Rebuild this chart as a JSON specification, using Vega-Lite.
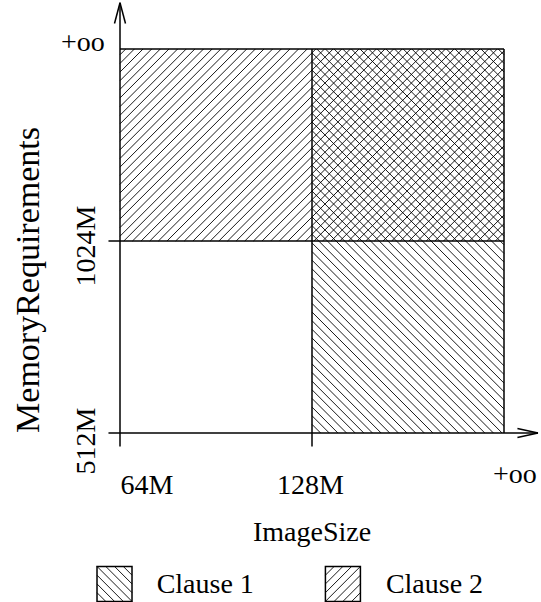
{
  "$schema": "https://vega.github.io/schema/vega-lite/v6.json",
  "width": 540,
  "height": 602,
  "autosize": "none",
  "padding": 0,
  "config": {"view": {"stroke": null}, "text": {"font": "Liberation Serif", "color": "#000"}},
  "datasets": {
    "hatch": [
      {"x":1,"y":0.045,"x2":1.045,"y2":0},{"x":1,"y":0.09,"x2":1.09,"y2":0},{"x":1,"y":0.135,"x2":1.135,"y2":0},{"x":1,"y":0.18,"x2":1.18,"y2":0},{"x":1,"y":0.225,"x2":1.225,"y2":0},{"x":1,"y":0.27,"x2":1.27,"y2":0},{"x":1,"y":0.315,"x2":1.315,"y2":0},{"x":1,"y":0.36,"x2":1.36,"y2":0},{"x":1,"y":0.405,"x2":1.405,"y2":0},{"x":1,"y":0.45,"x2":1.45,"y2":0},{"x":1,"y":0.495,"x2":1.495,"y2":0},{"x":1,"y":0.54,"x2":1.54,"y2":0},{"x":1,"y":0.585,"x2":1.585,"y2":0},{"x":1,"y":0.63,"x2":1.63,"y2":0},{"x":1,"y":0.675,"x2":1.675,"y2":0},{"x":1,"y":0.72,"x2":1.72,"y2":0},{"x":1,"y":0.765,"x2":1.765,"y2":0},{"x":1,"y":0.81,"x2":1.81,"y2":0},{"x":1,"y":0.855,"x2":1.855,"y2":0},{"x":1,"y":0.9,"x2":1.9,"y2":0},{"x":1,"y":0.945,"x2":1.945,"y2":0},{"x":1,"y":0.99,"x2":1.99,"y2":0},
      {"x":1,"y":1.035,"x2":2,"y2":0.035},{"x":1,"y":1.08,"x2":2,"y2":0.08},{"x":1,"y":1.125,"x2":2,"y2":0.125},{"x":1,"y":1.17,"x2":2,"y2":0.17},{"x":1,"y":1.215,"x2":2,"y2":0.215},{"x":1,"y":1.26,"x2":2,"y2":0.26},{"x":1,"y":1.305,"x2":2,"y2":0.305},{"x":1,"y":1.35,"x2":2,"y2":0.35},{"x":1,"y":1.395,"x2":2,"y2":0.395},{"x":1,"y":1.44,"x2":2,"y2":0.44},{"x":1,"y":1.485,"x2":2,"y2":0.485},{"x":1,"y":1.53,"x2":2,"y2":0.53},{"x":1,"y":1.575,"x2":2,"y2":0.575},{"x":1,"y":1.62,"x2":2,"y2":0.62},{"x":1,"y":1.665,"x2":2,"y2":0.665},{"x":1,"y":1.71,"x2":2,"y2":0.71},{"x":1,"y":1.755,"x2":2,"y2":0.755},{"x":1,"y":1.8,"x2":2,"y2":0.8},{"x":1,"y":1.845,"x2":2,"y2":0.845},{"x":1,"y":1.89,"x2":2,"y2":0.89},{"x":1,"y":1.935,"x2":2,"y2":0.935},{"x":1,"y":1.98,"x2":2,"y2":0.98},
      {"x":1.025,"y":2,"x2":2,"y2":1.025},{"x":1.07,"y":2,"x2":2,"y2":1.07},{"x":1.115,"y":2,"x2":2,"y2":1.115},{"x":1.16,"y":2,"x2":2,"y2":1.16},{"x":1.205,"y":2,"x2":2,"y2":1.205},{"x":1.25,"y":2,"x2":2,"y2":1.25},{"x":1.295,"y":2,"x2":2,"y2":1.295},{"x":1.34,"y":2,"x2":2,"y2":1.34},{"x":1.385,"y":2,"x2":2,"y2":1.385},{"x":1.43,"y":2,"x2":2,"y2":1.43},{"x":1.475,"y":2,"x2":2,"y2":1.475},{"x":1.52,"y":2,"x2":2,"y2":1.52},{"x":1.565,"y":2,"x2":2,"y2":1.565},{"x":1.61,"y":2,"x2":2,"y2":1.61},{"x":1.655,"y":2,"x2":2,"y2":1.655},{"x":1.7,"y":2,"x2":2,"y2":1.7},{"x":1.745,"y":2,"x2":2,"y2":1.745},{"x":1.79,"y":2,"x2":2,"y2":1.79},{"x":1.835,"y":2,"x2":2,"y2":1.835},{"x":1.88,"y":2,"x2":2,"y2":1.88},{"x":1.925,"y":2,"x2":2,"y2":1.925},{"x":1.97,"y":2,"x2":2,"y2":1.97},
      {"x":1.955,"y":1,"x2":2,"y2":1.045},{"x":1.91,"y":1,"x2":2,"y2":1.09},{"x":1.865,"y":1,"x2":2,"y2":1.135},{"x":1.82,"y":1,"x2":2,"y2":1.18},{"x":1.775,"y":1,"x2":2,"y2":1.225},{"x":1.73,"y":1,"x2":2,"y2":1.27},{"x":1.685,"y":1,"x2":2,"y2":1.315},{"x":1.64,"y":1,"x2":2,"y2":1.36},{"x":1.595,"y":1,"x2":2,"y2":1.405},{"x":1.55,"y":1,"x2":2,"y2":1.45},{"x":1.505,"y":1,"x2":2,"y2":1.495},{"x":1.46,"y":1,"x2":2,"y2":1.54},{"x":1.415,"y":1,"x2":2,"y2":1.585},{"x":1.37,"y":1,"x2":2,"y2":1.63},{"x":1.325,"y":1,"x2":2,"y2":1.675},{"x":1.28,"y":1,"x2":2,"y2":1.72},{"x":1.235,"y":1,"x2":2,"y2":1.765},{"x":1.19,"y":1,"x2":2,"y2":1.81},{"x":1.145,"y":1,"x2":2,"y2":1.855},{"x":1.1,"y":1,"x2":2,"y2":1.9},{"x":1.055,"y":1,"x2":2,"y2":1.945},{"x":1.01,"y":1,"x2":2,"y2":1.99},
      {"x":0.965,"y":1,"x2":1.965,"y2":2},{"x":0.92,"y":1,"x2":1.92,"y2":2},{"x":0.875,"y":1,"x2":1.875,"y2":2},{"x":0.83,"y":1,"x2":1.83,"y2":2},{"x":0.785,"y":1,"x2":1.785,"y2":2},{"x":0.74,"y":1,"x2":1.74,"y2":2},{"x":0.695,"y":1,"x2":1.695,"y2":2},{"x":0.65,"y":1,"x2":1.65,"y2":2},{"x":0.605,"y":1,"x2":1.605,"y2":2},{"x":0.56,"y":1,"x2":1.56,"y2":2},{"x":0.515,"y":1,"x2":1.515,"y2":2},{"x":0.47,"y":1,"x2":1.47,"y2":2},{"x":0.425,"y":1,"x2":1.425,"y2":2},{"x":0.38,"y":1,"x2":1.38,"y2":2},{"x":0.335,"y":1,"x2":1.335,"y2":2},{"x":0.29,"y":1,"x2":1.29,"y2":2},{"x":0.245,"y":1,"x2":1.245,"y2":2},{"x":0.2,"y":1,"x2":1.2,"y2":2},{"x":0.155,"y":1,"x2":1.155,"y2":2},{"x":0.11,"y":1,"x2":1.11,"y2":2},{"x":0.065,"y":1,"x2":1.065,"y2":2},{"x":0.02,"y":1,"x2":1.02,"y2":2},
      {"x":0,"y":1.025,"x2":0.975,"y2":2},{"x":0,"y":1.07,"x2":0.93,"y2":2},{"x":0,"y":1.115,"x2":0.885,"y2":2},{"x":0,"y":1.16,"x2":0.84,"y2":2},{"x":0,"y":1.205,"x2":0.795,"y2":2},{"x":0,"y":1.25,"x2":0.75,"y2":2},{"x":0,"y":1.295,"x2":0.705,"y2":2},{"x":0,"y":1.34,"x2":0.66,"y2":2},{"x":0,"y":1.385,"x2":0.615,"y2":2},{"x":0,"y":1.43,"x2":0.57,"y2":2},{"x":0,"y":1.475,"x2":0.525,"y2":2},{"x":0,"y":1.52,"x2":0.48,"y2":2},{"x":0,"y":1.565,"x2":0.435,"y2":2},{"x":0,"y":1.61,"x2":0.39,"y2":2},{"x":0,"y":1.655,"x2":0.345,"y2":2},{"x":0,"y":1.7,"x2":0.3,"y2":2},{"x":0,"y":1.745,"x2":0.255,"y2":2},{"x":0,"y":1.79,"x2":0.21,"y2":2},{"x":0,"y":1.835,"x2":0.165,"y2":2},{"x":0,"y":1.88,"x2":0.12,"y2":2},{"x":0,"y":1.925,"x2":0.075,"y2":2},{"x":0,"y":1.97,"x2":0.03,"y2":2}
    ],
    "frame": [
      {"x":0,"y":-0.07,"x2":0,"y2":2.241},
      {"x":-0.06,"y":0,"x2":2.177,"y2":0},
      {"x":-0.06,"y":1,"x2":2,"y2":1},
      {"x":1,"y":-0.07,"x2":1,"y2":2},
      {"x":0,"y":2,"x2":2,"y2":2},
      {"x":2,"y":0,"x2":2,"y2":2},
      {"x":0,"y":2.241,"x2":-0.0287,"y2":2.133},
      {"x":0,"y":2.241,"x2":0.0287,"y2":2.133},
      {"x":2.177,"y":0,"x2":2.07,"y2":0.0234},
      {"x":2.177,"y":0,"x2":2.07,"y2":-0.0234}
    ],
    "labels": [
      {"t":"+oo","x":-0.193,"y":1.99},
      {"t":"64M","x":0.141,"y":-0.32},
      {"t":"128M","x":0.992,"y":-0.32},
      {"t":"+oo","x":2.057,"y":-0.26},
      {"t":"ImageSize","x":1.0,"y":-0.56},
      {"t":"Clause 1","x":0.444,"y":-0.833},
      {"t":"Clause 2","x":1.638,"y":-0.833}
    ],
    "vlabels": [
      {"t":"1024M","x":-0.128,"y":0.974},
      {"t":"512M","x":-0.128,"y":-0.042}
    ],
    "ytitle": [
      {"t":"MemoryRequirements","x":-0.422,"y":0.797}
    ],
    "legend": [
      {"clause":"Clause 1","x":-0.0286,"y":-0.786},
      {"clause":"Clause 2","x":1.161,"y":-0.786}
    ]
  },
  "layer": [
    {
      "data": {"name": "hatch"},
      "mark": {"type": "rule", "stroke": "#000", "strokeWidth": 0.9},
      "encoding": {
        "x": {"field": "x", "type": "quantitative", "scale": {"domain": [-0.625, 2.1875], "nice": false, "zero": false}, "axis": null},
        "y": {"field": "y", "type": "quantitative", "scale": {"domain": [-0.8802, 2.2552], "nice": false, "zero": false}, "axis": null},
        "x2": {"field": "x2"},
        "y2": {"field": "y2"}
      }
    },
    {
      "data": {"name": "frame"},
      "mark": {"type": "rule", "stroke": "#000", "strokeWidth": 1.5},
      "encoding": {
        "x": {"field": "x", "type": "quantitative", "scale": {"domain": [-0.625, 2.1875], "nice": false, "zero": false}, "axis": null},
        "y": {"field": "y", "type": "quantitative", "scale": {"domain": [-0.8802, 2.2552], "nice": false, "zero": false}, "axis": null},
        "x2": {"field": "x2"},
        "y2": {"field": "y2"}
      }
    },
    {
      "data": {"name": "labels"},
      "mark": {"type": "text", "fontSize": 28, "align": "center", "baseline": "alphabetic", "font": "Liberation Serif"},
      "encoding": {
        "x": {"field": "x", "type": "quantitative", "scale": {"domain": [-0.625, 2.1875], "nice": false, "zero": false}, "axis": null},
        "y": {"field": "y", "type": "quantitative", "scale": {"domain": [-0.8802, 2.2552], "nice": false, "zero": false}, "axis": null},
        "text": {"field": "t"}
      }
    },
    {
      "data": {"name": "vlabels"},
      "mark": {"type": "text", "fontSize": 28, "align": "center", "baseline": "alphabetic", "angle": 270, "font": "Liberation Serif"},
      "encoding": {
        "x": {"field": "x", "type": "quantitative", "scale": {"domain": [-0.625, 2.1875], "nice": false, "zero": false}, "axis": null},
        "y": {"field": "y", "type": "quantitative", "scale": {"domain": [-0.8802, 2.2552], "nice": false, "zero": false}, "axis": null},
        "text": {"field": "t"}
      }
    },
    {
      "data": {"name": "ytitle"},
      "mark": {"type": "text", "fontSize": 34, "align": "center", "baseline": "alphabetic", "angle": 270, "font": "Liberation Serif"},
      "encoding": {
        "x": {"field": "x", "type": "quantitative", "scale": {"domain": [-0.625, 2.1875], "nice": false, "zero": false}, "axis": null},
        "y": {"field": "y", "type": "quantitative", "scale": {"domain": [-0.8802, 2.2552], "nice": false, "zero": false}, "axis": null},
        "text": {"field": "t"}
      }
    },
    {
      "data": {"name": "legend"},
      "mark": {"type": "point", "filled": false, "stroke": "#000", "strokeWidth": 0.9, "size": 1225, "opacity": 1},
      "encoding": {
        "x": {"field": "x", "type": "quantitative", "scale": {"domain": [-0.625, 2.1875], "nice": false, "zero": false}, "axis": null},
        "y": {"field": "y", "type": "quantitative", "scale": {"domain": [-0.8802, 2.2552], "nice": false, "zero": false}, "axis": null},
        "shape": {"field": "clause", "type": "nominal", "legend": null, "scale": {"domain": ["Clause 1", "Clause 2"], "range": ["M-0.5,-1L1,0.5M0,-1L1,0M0.5,-1L1,-0.5M-1,-1L1,1M-1,-0.5L0.5,1M-1,0L0,1M-1,0.5L-0.5,1", "M-1,1L1,-1M-0.5,1L1,-0.5M0,1L1,0M0.5,1L1,0.5M-1,0.5L0.5,-1M-1,0L0,-1M-1,-0.5L-0.5,-1"]}}
      }
    },
    {
      "data": {"name": "legend"},
      "mark": {"type": "point", "shape": "square", "filled": false, "stroke": "#000", "strokeWidth": 1.5, "size": 1225, "opacity": 1},
      "encoding": {
        "x": {"field": "x", "type": "quantitative", "scale": {"domain": [-0.625, 2.1875], "nice": false, "zero": false}, "axis": null},
        "y": {"field": "y", "type": "quantitative", "scale": {"domain": [-0.8802, 2.2552], "nice": false, "zero": false}, "axis": null}
      }
    }
  ]
}
